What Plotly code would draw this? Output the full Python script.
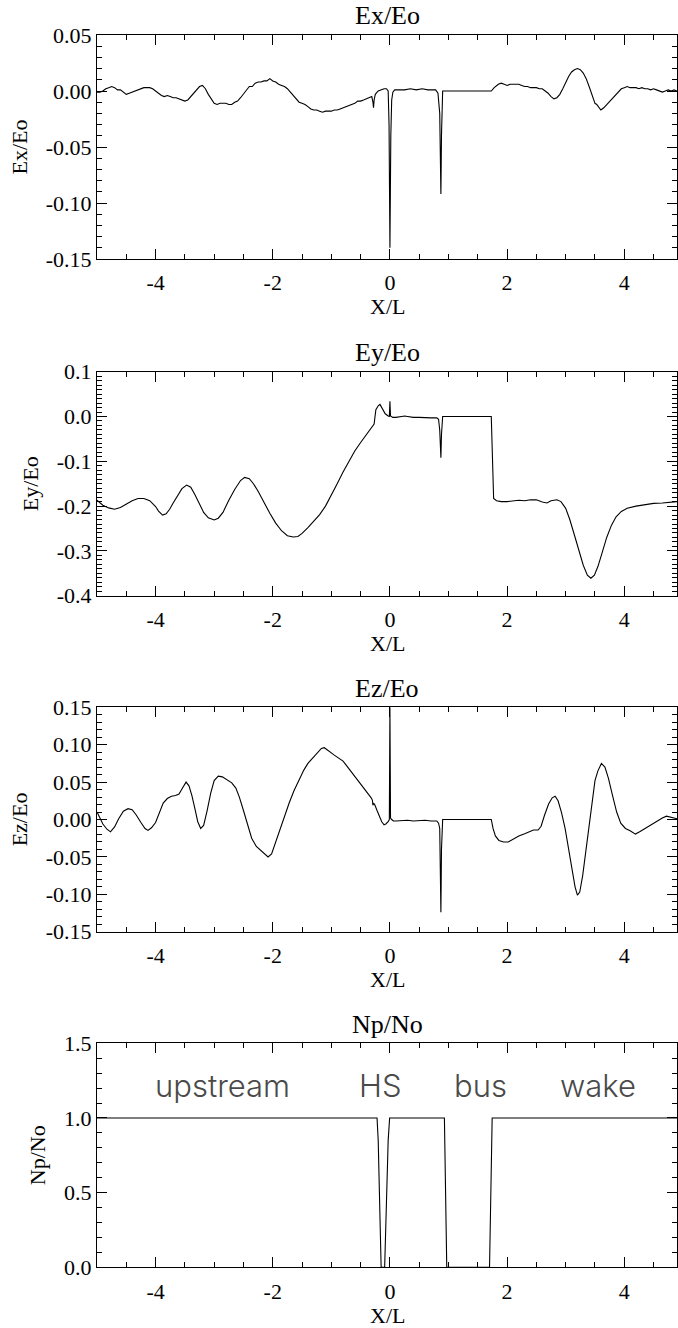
import plotly.graph_objects as go

# ---------------- data ----------------
ex_x = [-5.00, -4.95, -4.90, -4.85, -4.80, -4.75, -4.70, -4.65, -4.60, -4.55, -4.50, -4.45,
        -4.40, -4.35, -4.30, -4.25, -4.20, -4.15, -4.10, -4.05, -4.00, -3.95, -3.90, -3.85,
        -3.80, -3.75, -3.70, -3.65, -3.60, -3.55, -3.50, -3.45, -3.40, -3.35, -3.30, -3.25,
        -3.20, -3.15, -3.10, -3.05, -3.00, -2.95, -2.90, -2.85, -2.80, -2.75, -2.70, -2.65,
        -2.60, -2.55, -2.50, -2.45, -2.40, -2.35, -2.30, -2.25, -2.20, -2.15, -2.10, -2.05,
        -2.00, -1.95, -1.90, -1.85, -1.80, -1.75, -1.70, -1.65, -1.60, -1.55, -1.50, -1.45,
        -1.40, -1.35, -1.30, -1.25, -1.20, -1.15, -1.10, -1.05, -1.00, -0.95, -0.90, -0.85,
        -0.80, -0.75, -0.70, -0.65, -0.60, -0.55, -0.50, -0.45, -0.40, -0.35, -0.31, -0.29,
        -0.28, -0.27, -0.25, -0.20, -0.15, -0.10, -0.06, -0.03, -0.015, 0.00, 0.015, 0.03,
        0.05, 0.08, 0.15, 0.25, 0.35, 0.45, 0.55, 0.65, 0.78, 0.82, 0.85, 0.87, 0.88, 0.90,
        1.73, 1.78, 1.85, 1.90, 1.95, 2.00, 2.05, 2.10, 2.15, 2.20, 2.25, 2.30, 2.35, 2.40,
        2.45, 2.50, 2.55, 2.60, 2.65, 2.70, 2.75, 2.80, 2.85, 2.90, 2.95, 3.00, 3.05, 3.10,
        3.15, 3.20, 3.25, 3.30, 3.35, 3.40, 3.45, 3.50, 3.53, 3.57, 3.60, 3.65, 3.70, 3.75,
        3.80, 3.85, 3.90, 3.95, 4.00, 4.05, 4.10, 4.15, 4.20, 4.25, 4.30, 4.35, 4.40, 4.45,
        4.50, 4.55, 4.60, 4.65, 4.70, 4.75, 4.80, 4.85, 4.90]
ex_y = [-0.001, -0.001, 0.000, 0.002, 0.003, 0.004, 0.003, 0.001, 0.001, -0.001, -0.003, -0.002,
        -0.001, 0.000, 0.001, 0.002, 0.003, 0.003, 0.003, 0.002, 0.000, -0.002, -0.004, -0.005,
        -0.004, -0.005, -0.006, -0.006, -0.007, -0.008, -0.009, -0.008, -0.005, -0.001, 0.002, 0.004,
        0.005, 0.002, -0.003, -0.007, -0.011, -0.012, -0.011, -0.011, -0.011, -0.012, -0.012, -0.010,
        -0.009, -0.006, -0.003, 0.001, 0.004, 0.004, 0.007, 0.008, 0.008, 0.009, 0.009, 0.011,
        0.009, 0.008, 0.006, 0.005, 0.004, 0.002, -0.001, -0.004, -0.006, -0.010, -0.011, -0.012,
        -0.014, -0.016, -0.017, -0.017, -0.018, -0.019, -0.018, -0.018, -0.018, -0.017, -0.017, -0.016,
        -0.015, -0.014, -0.013, -0.012, -0.011, -0.009, -0.009, -0.008, -0.007, -0.006, -0.005, -0.010,
        -0.015, -0.008, -0.003, 0.000, 0.001, 0.002, 0.002, 0.000, -0.030, -0.140, -0.040, -0.008,
        -0.001, 0.001, 0.001, 0.001, 0.002, 0.001, 0.002, 0.001, 0.001, -0.002, -0.020, -0.092, -0.040, 0.000,
        0.000, 0.003, 0.006, 0.007, 0.006, 0.005, 0.006, 0.006, 0.006, 0.006, 0.005, 0.004, 0.004, 0.003,
        0.003, 0.003, 0.002, 0.002, 0.000, -0.002, -0.005, -0.007, -0.006, -0.003, 0.002, 0.008, 0.013, 0.017,
        0.019, 0.020, 0.019, 0.016, 0.011, 0.004, -0.003, -0.011, -0.012, -0.015, -0.017, -0.015, -0.012, -0.010,
        -0.007, -0.004, -0.001, 0.002, 0.003, 0.004, 0.003, 0.003, 0.003, 0.002, 0.003, 0.002, 0.002, 0.001,
        0.002, 0.001, 0.000, -0.001, 0.000, 0.001, 0.000, 0.001, 0.000]

ey_x = [-5.00, -4.95, -4.90, -4.80, -4.70, -4.60, -4.50, -4.40, -4.30, -4.20, -4.10, -4.00,
        -3.95, -3.88, -3.82, -3.76, -3.70, -3.62, -3.55, -3.47, -3.40, -3.33, -3.25, -3.18,
        -3.10, -3.00, -2.93, -2.85, -2.75, -2.65, -2.55, -2.48, -2.40, -2.33, -2.25, -2.15,
        -2.05, -1.95, -1.85, -1.75, -1.65, -1.57, -1.50, -1.40, -1.30, -1.20, -1.10, -1.00,
        -0.90, -0.80, -0.70, -0.60, -0.50, -0.40, -0.30, -0.27, -0.24, -0.20, -0.17, -0.13,
        -0.08, -0.03, -0.01, 0.00, 0.01, 0.05, 0.10, 0.20, 0.25, 0.30, 0.40, 0.50,
        0.60, 0.70, 0.80, 0.83, 0.85, 0.87, 0.88, 0.90, 1.73, 1.75, 1.77, 1.82,
        1.90, 2.00, 2.10, 2.20, 2.30, 2.40, 2.50, 2.60, 2.68, 2.75, 2.85, 2.92,
        3.00, 3.07, 3.15, 3.23, 3.30, 3.37, 3.43, 3.49, 3.55, 3.62, 3.70, 3.78,
        3.86, 3.95, 4.05, 4.20, 4.35, 4.50, 4.65, 4.80, 4.90]
ey_y = [-0.187, -0.192, -0.198, -0.204, -0.207, -0.203, -0.196, -0.188, -0.183, -0.183, -0.188, -0.201,
        -0.211, -0.220, -0.217, -0.207, -0.193, -0.176, -0.161, -0.153, -0.158, -0.174, -0.196, -0.214,
        -0.226, -0.231, -0.227, -0.214, -0.187, -0.163, -0.143, -0.136, -0.139, -0.150, -0.167, -0.192,
        -0.216, -0.238, -0.255, -0.266, -0.269, -0.268, -0.261, -0.248, -0.234, -0.219, -0.200, -0.176,
        -0.150, -0.124, -0.099, -0.077, -0.058, -0.040, -0.022, -0.017, 0.015, 0.024, 0.027, 0.018,
        0.006, 0.001, 0.000, 0.034, 0.001, -0.002, -0.002, 0.000, 0.001, 0.000, -0.002, -0.002,
        -0.003, -0.003, -0.003, -0.006, -0.030, -0.092, -0.040, 0.000, 0.000, -0.100, -0.183, -0.188,
        -0.190, -0.190, -0.189, -0.187, -0.188, -0.186, -0.186, -0.191, -0.193, -0.188, -0.186, -0.190,
        -0.205, -0.230, -0.265, -0.300, -0.332, -0.354, -0.361, -0.354, -0.335, -0.305, -0.270, -0.243,
        -0.224, -0.212, -0.205, -0.200, -0.197, -0.194, -0.193, -0.191, -0.190]

ez_x = [-5.00, -4.95, -4.90, -4.83, -4.77, -4.70, -4.63, -4.55, -4.47, -4.40, -4.33, -4.25,
        -4.18, -4.13, -4.07, -4.00, -3.93, -3.87, -3.80, -3.73, -3.66, -3.60, -3.54, -3.48,
        -3.43, -3.38, -3.33, -3.28, -3.23, -3.18, -3.12, -3.06, -3.00, -2.93, -2.86, -2.78,
        -2.70, -2.63, -2.57, -2.50, -2.43, -2.36, -2.28, -2.20, -2.13, -2.08, -2.02, -1.95,
        -1.88, -1.80, -1.72, -1.64, -1.55, -1.47, -1.40, -1.32, -1.24, -1.17, -1.12, -1.06,
        -1.00, -0.95, -0.90, -0.85, -0.80, -0.75, -0.70, -0.62, -0.55, -0.48, -0.42, -0.37,
        -0.32, -0.30, -0.29, -0.28, -0.26, -0.22, -0.18, -0.14, -0.10, -0.07, -0.03, -0.01,
        0.00, 0.01, 0.03, 0.06, 0.10, 0.20, 0.30, 0.40, 0.50, 0.60, 0.70, 0.80,
        0.83, 0.85, 0.87, 0.88, 0.90, 1.73, 1.76, 1.80, 1.86, 1.94, 2.02, 2.10,
        2.20, 2.30, 2.38, 2.45, 2.53, 2.58, 2.64, 2.71, 2.77, 2.82, 2.87, 2.93,
        2.99, 3.05, 3.11, 3.16, 3.20, 3.24, 3.29, 3.34, 3.39, 3.43, 3.47, 3.50,
        3.55, 3.61, 3.67, 3.73, 3.80, 3.87, 3.94, 4.02, 4.10, 4.19, 4.27, 4.35,
        4.45, 4.55, 4.65, 4.72, 4.80, 4.90]
ez_y = [0.010, 0.002, -0.006, -0.013, -0.0165, -0.010, 0.001, 0.011, 0.0145, 0.013, 0.006, -0.004,
        -0.012, -0.0145, -0.011, -0.004, 0.010, 0.022, 0.028, 0.031, 0.032, 0.034, 0.042, 0.050,
        0.045, 0.032, 0.015, -0.003, -0.012, -0.008, 0.012, 0.035, 0.052, 0.058, 0.057, 0.053,
        0.049, 0.042, 0.030, 0.012, -0.008, -0.025, -0.036, -0.042, -0.047, -0.050, -0.046, -0.030,
        -0.013, 0.003, 0.022, 0.038, 0.054, 0.066, 0.075, 0.082, 0.089, 0.095, 0.096, 0.093,
        0.089, 0.086, 0.083, 0.080, 0.078, 0.073, 0.068, 0.059, 0.052, 0.046, 0.040, 0.034,
        0.029, 0.026, 0.019, 0.022, 0.020, 0.012, 0.004, -0.003, -0.007, -0.006, -0.003, 0.000,
        0.150, 0.002, 0.000, -0.002, -0.002, -0.001, -0.001, -0.002, -0.001, -0.001, -0.002, -0.002,
        -0.005, -0.012, -0.124, -0.040, 0.000, 0.000, -0.012, -0.022, -0.028, -0.030, -0.030, -0.026,
        -0.022, -0.019, -0.016, -0.014, -0.014, -0.009, 0.006, 0.021, 0.029, 0.031, 0.025, 0.009,
        -0.012, -0.038, -0.068, -0.090, -0.101, -0.097, -0.075, -0.045, -0.015, 0.004, 0.030, 0.052,
        0.065, 0.075, 0.070, 0.055, 0.032, 0.010, -0.005, -0.012, -0.015, -0.0195, -0.016, -0.012,
        -0.007, -0.002, 0.002, 0.0045, 0.003, 0.001]

np_x = [-5.00, -0.22, -0.20, -0.18, -0.15, -0.09, -0.06, -0.03, -0.005, 0.93, 0.97, 1.70, 1.745, 4.90]
np_y = [1.0, 1.0, 0.85, 0.45, 0.0, 0.0, 0.45, 0.85, 1.0, 1.0, 0.0, 0.0, 1.0, 1.0]

region_names = ["upstream", "HS", "bus", "wake"]
region_x = [-2.86, -0.16, 1.54, 3.55]
region_y = [1.22, 1.22, 1.22, 1.22]

x_tickvals = [-4, -2, 0, 2, 4]
x_ticktext = ["-4", "-2", "0", "2", "4"]

ex_tickvals = [-0.15, -0.10, -0.05, 0.00, 0.05]
ex_ticktext = ["-0.15", "-0.10", "-0.05", "0.00", "0.05"]
ey_tickvals = [-0.4, -0.3, -0.2, -0.1, 0.0, 0.1]
ey_ticktext = ["-0.4", "-0.3", "-0.2", "-0.1", "0.0", "0.1"]
ez_tickvals = [-0.15, -0.10, -0.05, 0.00, 0.05, 0.10, 0.15]
ez_ticktext = ["-0.15", "-0.10", "-0.05", "0.00", "0.05", "0.10", "0.15"]
np_tickvals = [0.0, 0.5, 1.0, 1.5]
np_ticktext = ["0.0", "0.5", "1.0", "1.5"]

# ---------------- layout ----------------
W, H = 678, 1328
SERIF = "Liberation Serif"
TICK_SIZE = 22
TITLE_SIZE = 26

# (top, bottom) pixel rows of each panel frame
frames = [(35.0, 259.0), (371.7, 595.7), (707.3, 931.7), (1043.3, 1267.3)]

panels = [
    dict(x=ex_x, y=ex_y, name="Ex/Eo", yr=[-0.15, 0.05], tv=ex_tickvals, tt=ex_ticktext, minor=0.01),
    dict(x=ey_x, y=ey_y, name="Ey/Eo", yr=[-0.4, 0.1], tv=ey_tickvals, tt=ey_ticktext, minor=0.01),
    dict(x=ez_x, y=ez_y, name="Ez/Eo", yr=[-0.15, 0.15], tv=ez_tickvals, tt=ez_ticktext, minor=0.01),
    dict(x=np_x, y=np_y, name="Np/No", yr=[0.0, 1.5], tv=np_tickvals, tt=np_ticktext, minor=0.1),
]

fig = go.Figure()


def axis_font():
    return dict(family=SERIF, size=TICK_SIZE, color="black")


def frame_axis():
    return dict(
        showline=True, linecolor="black", linewidth=1, mirror="ticks",
        ticks="inside", ticklen=10, tickwidth=1, tickcolor="black",
        showgrid=False, zeroline=False, tickmode="array",
        tickfont=axis_font(),
    )


layout_axes = {}
for i, p in enumerate(panels):
    n = i + 1
    sfx = "" if n == 1 else str(n)
    xref, yref = "x" + sfx, "y" + sfx
    top, bot = frames[i]

    fig.add_trace(go.Scatter(
        x=p["x"], y=p["y"], mode="lines",
        line=dict(color="black", width=1.1),
        xaxis=xref, yaxis=yref, showlegend=False, hoverinfo="skip",
    ))

    xa = frame_axis()
    xa.update(
        domain=[0, 1], anchor=yref, range=[-5.0, 4.9],
        tickvals=x_tickvals, ticktext=x_ticktext, ticklabelstandoff=4,
        minor=dict(tickmode="linear", tick0=0, dtick=0.5, ticks="inside",
                   ticklen=5, tickwidth=1, tickcolor="black", showgrid=False),
    )
    ya = frame_axis()
    ya.update(
        domain=[1 - bot / H, 1 - top / H], anchor=xref, range=p["yr"],
        tickvals=p["tv"], ticktext=p["tt"],
        minor=dict(tickmode="linear", tick0=0, dtick=p["minor"], ticks="inside",
                   ticklen=5, tickwidth=1, tickcolor="black", showgrid=False),
        title=dict(text=p["name"], font=axis_font(), standoff=12),
    )
    layout_axes["xaxis" + sfx] = xa
    layout_axes["yaxis" + sfx] = ya

    # panel title above the frame
    fig.add_annotation(
        text=p["name"], x=0.5, y=1, xref=xref + " domain", yref=yref + " domain",
        xanchor="center", yanchor="middle", yshift=19, showarrow=False,
        font=dict(family=SERIF, size=TITLE_SIZE, color="black"),
    )
    # x-axis label under the tick labels
    fig.add_annotation(
        text="X/L", x=0.5, y=0, xref=xref + " domain", yref=yref + " domain",
        xanchor="center", yanchor="middle", yshift=-48, showarrow=False,
        font=axis_font(),
    )

# region labels inside the density panel
for name, xv, yv in zip(region_names, region_x, region_y):
    fig.add_annotation(
        text=name, x=xv, y=yv, xref="x4", yref="y4",
        xanchor="center", yanchor="middle", showarrow=False,
        font=dict(family="Inter, DejaVu Sans, sans-serif", size=31, color="#4a4a4a", weight=300),
    )

fig.update_layout(
    width=W, height=H,
    margin=dict(l=97, r=1, t=0, b=0, autoexpand=False),
    paper_bgcolor="white", plot_bgcolor="white",
    showlegend=False,
    **layout_axes,
)

fig.write_html("out.html")
